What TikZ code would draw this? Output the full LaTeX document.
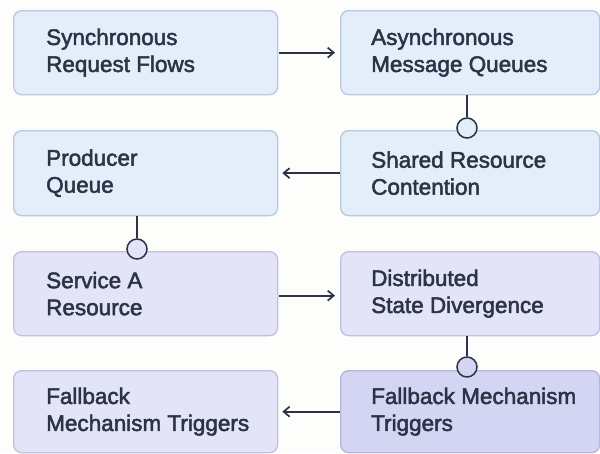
\documentclass[tikz,border=0pt]{standalone}
\usepackage{fontspec}
\setmainfont{Liberation Sans}
\usetikzlibrary{arrows.meta}
\definecolor{bg}{HTML}{FDFDFB}
\definecolor{ink}{HTML}{2B3446}
\definecolor{fillA}{HTML}{E4EEFA}
\definecolor{lineA}{HTML}{B8C8DF}
\definecolor{fillB}{HTML}{E3E4F7}
\definecolor{lineB}{HTML}{BEC2E2}
\definecolor{fillC}{HTML}{D4D5F2}
\definecolor{lineC}{HTML}{B3B6DD}
\tikzset{
  x=1pt,y=-1pt,
  box/.style={draw, line width=1.3pt, rounded corners=8pt, anchor=north west,
    inner sep=0pt},
  boxL/.style={box, minimum width=264pt},
  boxR/.style={box, minimum width=259pt},
  lbl/.style={anchor=west, align=left, inner sep=0pt, text=ink,
    font=\fontsize{22.5}{27}\selectfont,
    execute at begin node={\special{pdf:code 2 Tr 0.5 w}},
    execute at end node={\special{pdf:code 0 Tr}}},
  conn/.style={draw=ink, line width=1.7pt},
  arr/.style={conn, -{Straight Barb[length=6pt,width=10pt,line width=1.7pt]}},
  ring/.style={circle, draw=ink, line width=1.5pt, minimum size=20pt, inner sep=0pt}
}
\begin{document}
\begin{tikzpicture}
\fill[bg] (0,0) rectangle (600,453);
\useasboundingbox (0,0) rectangle (600,453);
\node[boxL, fill=fillA, draw=lineA, minimum height=84pt] (a) at (13,10) {};
\node[boxR, fill=fillA, draw=lineA, minimum height=84pt] (b) at (340,10) {};
\node[boxL, fill=fillA, draw=lineA, minimum height=85pt] (c) at (13,130) {};
\node[boxR, fill=fillA, draw=lineA, minimum height=85pt] (d) at (340,130) {};
\node[boxL, fill=fillB, draw=lineB, minimum height=84pt] (e) at (13,251) {};
\node[boxR, fill=fillB, draw=lineB, minimum height=84pt] (f) at (340,251) {};
\node[boxL, fill=fillB, draw=lineB, minimum height=82pt] (g) at (13,370) {};
\node[boxR, fill=fillC, draw=lineC, minimum height=82pt] (h) at (340,370) {};
\node[lbl] (ta) at ([xshift=33pt]a.west) {Synchronous\\Request Flows};
\node[lbl] (tb) at ([xshift=31pt]b.west) {Asynchronous\\Message Queues};
\node[lbl] (tc) at ([xshift=33pt]c.west) {Producer\\Queue};
\node[lbl] (td) at ([xshift=31pt]d.west) {Shared Resource\\Contention};
\node[lbl] (te) at ([xshift=33pt]e.west) {Service A\\Resource};
\node[lbl] (tf) at ([xshift=31pt]f.west) {Distributed\\State Divergence};
\node[lbl] (tg) at ([xshift=33pt]g.west) {Fallback\\Mechanism Triggers};
\node[lbl] (th) at ([xshift=31pt]h.west) {Fallback Mechanism\\Triggers};
% horizontal arrows
\draw[arr] ([xshift=1pt]a.east) -- ([xshift=-5pt]b.west);
\draw[arr] ([xshift=0pt]d.west) -- ([xshift=4pt]c.east);
\draw[arr] ([xshift=1pt,yshift=-2pt]e.east) -- ([xshift=-5pt,yshift=-2pt]f.west);
\draw[arr] (h.west) -- ([xshift=4pt]g.east);
% vertical ring connectors
\node[ring, fill=fillA] (r1) at (467,128) {};
\draw[conn] (b.south -| r1) -- (r1.north);
\node[ring, fill=fillB] (r2) at (137,249) {};
\draw[conn] (c.south -| r2) -- (r2.north);
\node[ring, fill=fillC] (r3) at (467,367) {};
\draw[conn] (f.south -| r3) -- (r3.north);
\end{tikzpicture}
\end{document}
